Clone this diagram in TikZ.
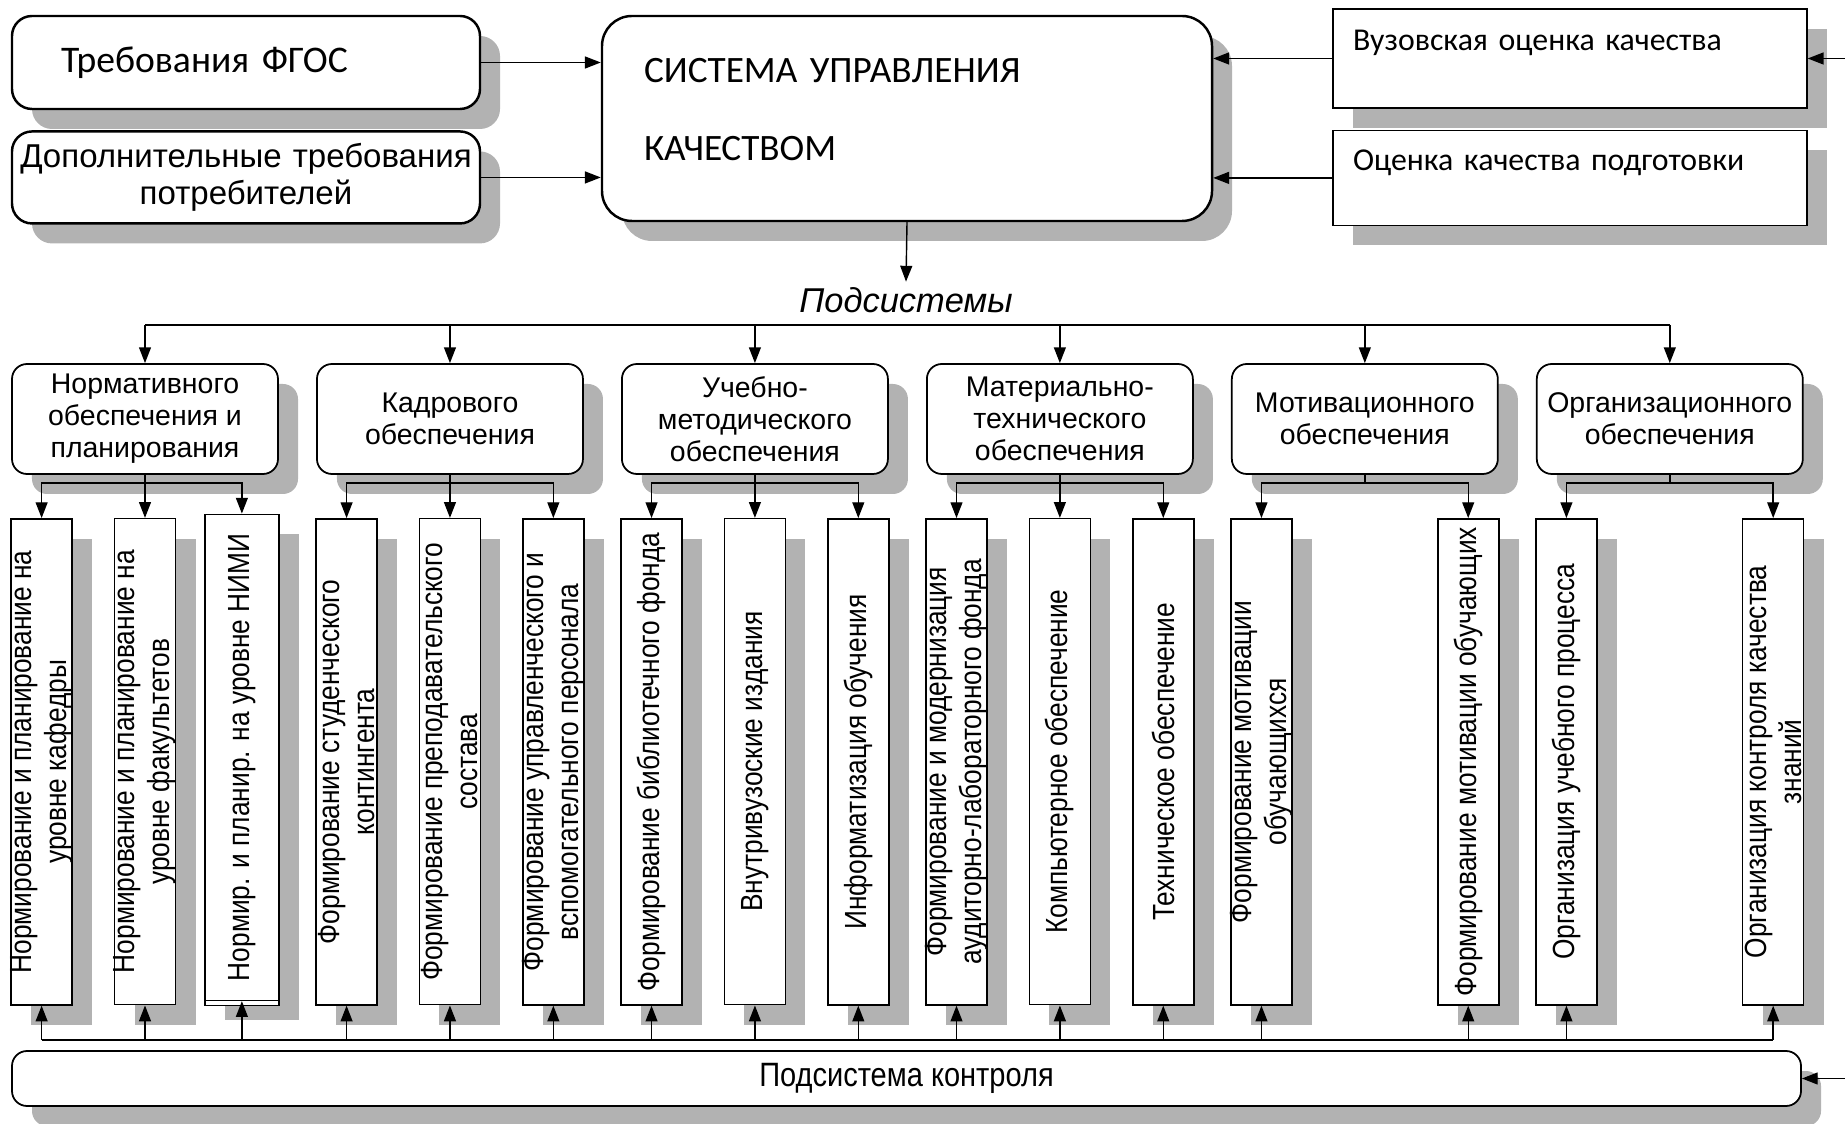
\documentclass[tikz,border=0pt]{standalone}
\usepackage{graphicx}
\usepackage{fontspec}
\setmainfont{Liberation Sans}
\newfontfamily\calfont[WordSpace=0.6]{Carlito}
\newfontfamily\narrowfont[FakeStretch=0.86]{Liberation Sans}
\usetikzlibrary{arrows.meta, positioning, calc, shadows}

\newcommand{\rottext}[1]{\makebox[0pt]{\rotatebox{90}{\parbox{4.86cm}{\centering #1}}}}

\begin{document}
\begin{tikzpicture}[
    boxshadow/.style={drop shadow={shadow xshift=0.2cm, shadow yshift=-0.2cm, fill=black!30, opacity=1}},
    topbox/.style={rectangle, rounded corners=0.2cm, draw=black, line width=0.7pt, fill=white, boxshadow, inner sep=0pt, minimum width=4.68cm, minimum height=0.93cm},
    mainbox/.style={topbox, rounded corners=0.3cm, align=left, text width=5.26cm, inner xsep=0.42cm, minimum height=2.05cm, text height=0.27cm, text depth=0.98cm, font=\calfont\fontsize{10.6}{22}\selectfont},
    evalbox/.style={rectangle, draw=black, line width=0.4pt, fill=white, boxshadow, align=left, text width=4.34cm, inner xsep=0.2cm, inner ysep=0pt, minimum height=0.99cm, text height=0.22cm, text depth=0.37cm, font=\calfont\fontsize{9.05}{11}\selectfont},
    subbox/.style={rectangle, rounded corners=0.15cm, draw=black, line width=0.5pt, fill=white, boxshadow, minimum width=2.66cm, minimum height=1.1cm, inner sep=0pt, align=center, font=\fontsize{8.1}{9.1}\selectfont},
    vbox/.style={rectangle, draw=black, line width=0.45pt, fill=white, boxshadow, minimum width=0.61cm, minimum height=4.86cm, inner sep=0pt, font=\narrowfont\fontsize{8.7}{10}\selectfont},
    ctrlbox/.style={rectangle, rounded corners=0.15cm, draw=black, line width=0.5pt, fill=white, boxshadow, minimum width=17.89cm, minimum height=0.55cm, inner sep=0pt, font=\narrowfont\fontsize{9.6}{11}\selectfont},
    arrow/.style={line width=0.4pt, -{Triangle[length=4.5pt, width=3.4pt]}}
]
\useasboundingbox (0,0) rectangle (18.45,-11.24);

% Requirements and quality evaluation
\node (fgos) [topbox, align=left, text width=3.7cm, inner xsep=0.49cm, font=\calfont\fontsize{10.7}{12}\selectfont] at (2.46,-0.625) {Требования ФГОС};
\node (dop) [topbox, align=center, text width=4.68cm, minimum height=0.92cm, font=\fontsize{9.4}{10.5}\selectfont, below=0.2cm of fgos] {Дополнительные требования\\потребителей};
\node (main) [mainbox] at (9.07,-1.185) {СИСТЕМА УПРАВЛЕНИЯ\\КАЧЕСТВОМ};
\node (vuz) [evalbox] at (15.70,-0.585) {Вузовская оценка качества};
\node (ocen) [evalbox, minimum height=0.95cm, below=0.21cm of vuz] {Оценка качества подготовки};
\coordinate (vuzin) at ($(vuz.east)+(0.38,0)$);

% Subsystems
\node (podsys) [inner sep=0.05cm, font=\itshape\fontsize{9.8}{12}\selectfont] at (9.06,-3.0) {Подсистемы};
\coordinate (bus) at (9.06,-3.25);
\node (sub1) [subbox] at (1.45,-4.19) {Нормативного\\обеспечения и\\планирования};
\node (sub2) [subbox, right=0.372cm of sub1] {Кадрового\\обеспечения};
\node (sub3) [subbox, right=0.372cm of sub2] {Учебно-\\методического\\обеспечения};
\node (sub4) [subbox, right=0.372cm of sub3] {Материально-\\технического\\обеспечения};
\node (sub5) [subbox, right=0.372cm of sub4] {Мотивационного\\обеспечения};
\node (sub6) [subbox, right=0.372cm of sub5] {Организационного\\обеспечения};

% Tasks of each subsystem
\node (n11) [vbox] at ($(sub1.south west)+(0.305,-2.87)$) {\rottext{Нормирование и планирование на\\уровне кафедры}};
\node (n12) [vbox, below=0.43cm of sub1] {\rottext{Нормирование и планирование на\\уровне факультетов}};
\node (n13) [vbox, minimum width=0.74cm, copy shadow={shadow xshift=0cm, shadow yshift=-0.05cm}] at ($(sub1.south east)+(-0.37,-2.825)$) {\rottext{Нормир. и планир. на уровне НИМИ}};
\node (n21) [vbox] at ($(sub2.south west)+(0.305,-2.87)$) {\rottext{Формирование студенческого\\контингента}};
\node (n22) [vbox, below=0.43cm of sub2] {\rottext{Формирование преподавательского\\состава}};
\node (n23) [vbox] at ($(sub2.south east)+(-0.305,-2.87)$) {\rottext{Формирование управленческого и\\вспомогательного персонала}};
\node (n31) [vbox] at ($(sub3.south west)+(0.305,-2.87)$) {\rottext{Формирование библиотечного фонда}};
\node (n32) [vbox, below=0.43cm of sub3] {\rottext{Внутривузоские издания}};
\node (n33) [vbox] at ($(sub3.south east)+(-0.305,-2.87)$) {\rottext{Информатизация обучения}};
\node (n41) [vbox] at ($(sub4.south west)+(0.305,-2.87)$) {\rottext{Формирование и модернизация\\аудиторно-лабораторного фонда}};
\node (n42) [vbox, below=0.43cm of sub4] {\rottext{Компьютерное обеспечение}};
\node (n43) [vbox] at ($(sub4.south east)+(-0.305,-2.87)$) {\rottext{Техническое обеспечение}};
\node (n51) [vbox] at ($(sub5.south west)+(0.305,-2.87)$) {\rottext{Формирование мотивации\\обучающихся}};
\node (n52) [vbox] at ($(sub5.south east)+(-0.305,-2.87)$) {\rottext{Формирование мотивации обучающих}};
\node (n61) [vbox] at ($(sub6.south west)+(0.305,-2.87)$) {\rottext{Организация учебного процесса}};
\node (n62) [vbox] at ($(sub6.south east)+(-0.305,-2.87)$) {\rottext{Организация контроля качества\\знаний}};

% Control subsystem
\node (ctrl) [ctrlbox] at (9.065,-10.785) {Подсистема контроля};
\coordinate (ctrlin) at ($(ctrl.east)+(0.44,0)$);
\coordinate (cb) at ($(ctrl.north)+(0,0.1)$);

% Arrows
\draw [arrow] (fgos.east) -- (fgos.east -| main.west);
\draw [arrow] (dop.east) -- (dop.east -| main.west);
\draw [arrow] (vuz.west) -- (vuz.west -| main.east);
\draw [arrow] (ocen.west) -- (ocen.west -| main.east);
\draw [arrow] (vuzin) -- (vuz.east);
\draw [arrow] (main.south) -- (podsys.north);
\draw (bus -| sub1) -- (bus -| sub6);
\draw [arrow] (bus -| sub1) -- (sub1.north);
\draw [arrow] (bus -| sub2) -- (sub2.north);
\draw [arrow] (bus -| sub3) -- (sub3.north);
\draw [arrow] (bus -| sub4) -- (sub4.north);
\draw [arrow] (bus -| sub5) -- (sub5.north);
\draw [arrow] (bus -| sub6) -- (sub6.north);

\draw [arrow] (sub1.south) -- ++(0,-0.08) -| (n11.north);
\draw [arrow] (sub1.south) -- (n12.north);
\draw [arrow] (sub1.south) -- ++(0,-0.08) -| (n13.north);
\draw [arrow] (sub2.south) -- ++(0,-0.08) -| (n21.north);
\draw [arrow] (sub2.south) -- (n22.north);
\draw [arrow] (sub2.south) -- ++(0,-0.08) -| (n23.north);
\draw [arrow] (sub3.south) -- ++(0,-0.08) -| (n31.north);
\draw [arrow] (sub3.south) -- (n32.north);
\draw [arrow] (sub3.south) -- ++(0,-0.08) -| (n33.north);
\draw [arrow] (sub4.south) -- ++(0,-0.08) -| (n41.north);
\draw [arrow] (sub4.south) -- (n42.north);
\draw [arrow] (sub4.south) -- ++(0,-0.08) -| (n43.north);
\draw [arrow] (sub5.south) -- ++(0,-0.08) -| (n51.north);
\draw [arrow] (sub5.south) -- ++(0,-0.08) -| (n52.north);
\draw [arrow] (sub6.south) -- ++(0,-0.08) -| (n61.north);
\draw [arrow] (sub6.south) -- ++(0,-0.08) -| (n62.north);

\draw (cb -| n11) -- (cb -| n62);
\draw [arrow] (cb -| n11) -- (n11.south);
\draw [arrow] (cb -| n12) -- (n12.south);
\draw [arrow] (cb -| n13) -- (n13.south);
\draw [arrow] (cb -| n21) -- (n21.south);
\draw [arrow] (cb -| n22) -- (n22.south);
\draw [arrow] (cb -| n23) -- (n23.south);
\draw [arrow] (cb -| n31) -- (n31.south);
\draw [arrow] (cb -| n32) -- (n32.south);
\draw [arrow] (cb -| n33) -- (n33.south);
\draw [arrow] (cb -| n41) -- (n41.south);
\draw [arrow] (cb -| n42) -- (n42.south);
\draw [arrow] (cb -| n43) -- (n43.south);
\draw [arrow] (cb -| n51) -- (n51.south);
\draw [arrow] (cb -| n52) -- (n52.south);
\draw [arrow] (cb -| n61) -- (n61.south);
\draw [arrow] (cb -| n62) -- (n62.south);
\draw [arrow] (ctrlin) -- (ctrl.east);

\end{tikzpicture}
\end{document}
